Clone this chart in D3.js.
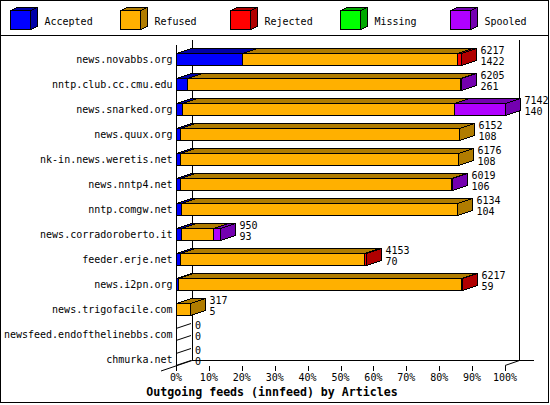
<!DOCTYPE html>
<html><head><meta charset="utf-8">
<script src="https://cdn.jsdelivr.net/npm/d3@7"></script>
<style>
html,body{margin:0;padding:0;background:#fff;}
text{font-family:"DejaVu Sans Mono",monospace;}
</style></head>
<body>
<svg id="c" width="550" height="405"></svg>
<script>
const categories = ["news.novabbs.org","nntp.club.cc.cmu.edu","news.snarked.org","news.quux.org","nk-in.news.weretis.net","news.nntp4.net","nntp.comgw.net","news.corradoroberto.it","feeder.erje.net","news.i2pn.org","news.trigofacile.com","newsfeed.endofthelinebbs.com","chmurka.net"];
const seriesNames = ["Accepted","Refused","Rejected","Missing","Spooled"];
const accepted = [20.0, 3.4, 1.9, 1.3, 1.3, 1.3, 1.4, 1.4, 1.1, 0.7, 0, 0, 0];
const refused  = [65.3, 82.9, 82.7, 84.7, 84.5, 82.2, 84.0, 9.8, 56.0, 86.0, 4.4, 0, 0];
const rejected = [1.3, 0, 0, 0, 0, 0, 0, 0, 0.7, 0.3, 0, 0, 0];
const missing  = [0, 0, 0, 0, 0, 0, 0, 0, 0, 0, 0, 0, 0];
const spooled  = [0, 0.3, 15.3, 0, 0, 0.3, 0, 2.2, 0, 0, 0, 0, 0];
const totals    = [6217, 6205, 7142, 6152, 6176, 6019, 6134, 950, 4153, 6217, 317, 0, 0];
const secondary = [1422, 261, 140, 108, 108, 106, 104, 93, 70, 59, 5, 0, 0];
const tickValues = [0,10,20,30,40,50,60,70,80,90,100];
const tickLabels = ["0%","10%","20%","30%","40%","50%","60%","70%","80%","90%","100%"];
const title = "Outgoing feeds (innfeed) by Articles";

const colors = ["#0000ff","#ffb000","#ff0000","#00ff00","#b000ff"];
const dark   = ["#0000a8","#b07c00","#b00000","#00a800","#7400b0"];
const seriesVals = [accepted, refused, rejected, missing, spooled];

const svg = d3.select("#c");
const g = svg.append("g").attr("shape-rendering","crispEdges");

// outer border and legend separator
g.append("rect").attr("x",0.5).attr("y",0.5).attr("width",548).attr("height",402).attr("fill","#fff").attr("stroke","#000");
g.append("line").attr("x1",0).attr("x2",549).attr("y1",35.5).attr("y2",35.5).attr("stroke","#000");

// legend
const lx = d3.scaleLinear().domain([0,4]).range([10,450]);
seriesNames.forEach((n,i)=>{
  const x = Math.round(lx(i))+0.5, y = 10.5, w = 20, h = 19, dx = 7, dy = 3;
  g.append("polygon").attr("points",[[x,y],[x+dx,y-dy],[x+w+dx,y-dy],[x+w,y]].join(" ")).attr("fill",dark[i]).attr("stroke","#000");
  g.append("polygon").attr("points",[[x+w,y],[x+w+dx,y-dy],[x+w+dx,y+h-dy],[x+w,y+h]].join(" ")).attr("fill",dark[i]).attr("stroke","#000");
  g.append("rect").attr("x",x).attr("y",y).attr("width",w).attr("height",h).attr("fill",colors[i]).attr("stroke","#000");
  svg.append("text").attr("x",x+34).attr("y",21).attr("dy","0.35em").attr("font-size","10px").text(n);
});

// scales
const x = d3.scaleLinear().domain([0,100]).range([176,505]);
const y = d3.scaleBand().domain(categories).range([46.8,371.8]);
const AX = 16, AY = 5.5;  // axis depth
const BX = 15, BY = 5;    // bar depth
const x0 = x(0);

// frame
const frame = [
  [x0+0.5,44.5,x0+0.5,370.5],
  [x0+AX+0.5,40,x0+AX+0.5,360.5],
  [519.5,40,519.5,360.5],
  [x0+AX,360.5,534,360.5]
];
frame.forEach(l=>g.append("line").attr("x1",l[0]).attr("y1",l[1]).attr("x2",l[2]).attr("y2",l[3]).attr("stroke","#000"));
svg.append("line").attr("x1",161).attr("y1",371).attr("x2",x0+AX).attr("y2",360.5).attr("stroke","#000");
svg.append("line").attr("x1",x(100)).attr("y1",365.5).attr("x2",519.5).attr("y2",360.5).attr("stroke","#000");

// x ticks
tickValues.forEach((v,i)=>{
  const tx = Math.round(x(v))+0.5;
  g.append("line").attr("x1",tx).attr("x2",tx).attr("y1",366).attr("y2",370.5).attr("stroke","#000");
  svg.append("text").attr("x",x(v)).attr("y",377.5).attr("dy","0.35em").attr("text-anchor","middle").attr("font-size","10px").text(tickLabels[i]);
});

// bars
categories.forEach((c,ci)=>{
  const cy = y(c) + y.bandwidth()/2;
  const yt = Math.round(cy-6)+0.5, yb = Math.round(cy+6)+0.5;
  svg.append("text").attr("x",172.5).attr("y",cy).attr("dy","0.35em").attr("text-anchor","end").attr("font-size","10px").text(c);
  let acc = 0, lastIdx = -1, endX = x0;
  const segs = [];
  seriesVals.forEach((arr,si)=>{
    const v = arr[ci];
    if (v > 0) { segs.push({si, a:acc, b:acc+v}); acc += v; lastIdx = si; }
  });
  const bg = g.append("g");
  if (segs.length === 0) {
    [yt,yb].forEach(yy=>svg.append("line").attr("x1",x0).attr("y1",yy).attr("x2",x0+BX).attr("y2",yy-BY).attr("stroke","#000"));
  }
  segs.forEach((s,k)=>{
    const xa = Math.round(x(s.a))+0.5, xb = Math.round(x(s.b))+0.5;
    bg.append("polygon").attr("points",[[xa,yt],[xa+BX,yt-BY],[xb+BX,yt-BY],[xb,yt]].join(" ")).attr("fill",dark[s.si]).attr("stroke","#000");
    bg.append("rect").attr("x",xa).attr("y",yt).attr("width",Math.max(0,xb-xa)).attr("height",yb-yt).attr("fill",colors[s.si]).attr("stroke","#000");
    if (k === segs.length-1) {
      bg.append("polygon").attr("points",[[xb,yt],[xb+BX,yt-BY],[xb+BX,yb-BY],[xb,yb]].join(" ")).attr("fill",dark[s.si]).attr("stroke","#000");
      endX = xb;
    }
  });
  const tx = endX + BX + 4;
  svg.append("text").attr("x",tx).attr("y",cy-9).attr("dy","0.35em").attr("font-size","10px").attr("fill","#000").text(totals[ci]);
  svg.append("text").attr("x",tx).attr("y",cy+2).attr("dy","0.35em").attr("font-size","10px").attr("fill","#000").text(secondary[ci]);
});

// title
svg.append("text").attr("x",272).attr("y",392).attr("dy","0.35em").attr("text-anchor","middle").attr("font-size","11.6px").attr("font-weight","bold").text(title);
</script>
</body></html>
